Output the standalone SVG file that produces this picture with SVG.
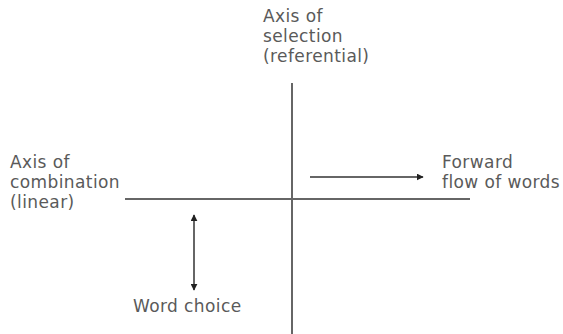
<svg xmlns="http://www.w3.org/2000/svg" width="563" height="334" viewBox="0 0 563 334">
<style>
text{font-family:"DejaVu Sans",Verdana,sans-serif;font-size:17px;letter-spacing:0.4px;fill:#5a5a5a}
.ax{stroke:#666;stroke-width:2;fill:none}
.ar{stroke:#333;stroke-width:1.5;fill:none}
</style>
<defs>
<marker id="ah" viewBox="0 0 10 10" refX="9" refY="5" markerWidth="7" markerHeight="7" markerUnits="userSpaceOnUse" orient="auto-start-reverse"><path d="M0,0 L10,5 L0,10 z" fill="#222"/></marker>
</defs>
<g id="connectors">
<line class="ax" x1="292" y1="83" x2="292" y2="334"/>
<line class="ax" x1="125" y1="199" x2="470" y2="199"/>
<line class="ar" x1="310" y1="177" x2="423" y2="177" marker-end="url(#ah)"/>
<line class="ar" x1="194" y1="215" x2="194" y2="290" marker-start="url(#ah)" marker-end="url(#ah)"/>
</g>
<g id="selection">
<text x="263" y="22">Axis of</text>
<text x="263" y="42">selection</text>
<text x="263" y="62">(referential)</text>
</g>
<g id="combination">
<text x="10" y="168">Axis of</text>
<text x="10" y="188">combination</text>
<text x="10" y="208">(linear)</text>
</g>
<g id="forward">
<text x="442" y="168">Forward</text>
<text x="442" y="188">flow of words</text>
</g>
<g id="wordchoice">
<text x="133" y="312">Word choice</text>
</g>
</svg>
